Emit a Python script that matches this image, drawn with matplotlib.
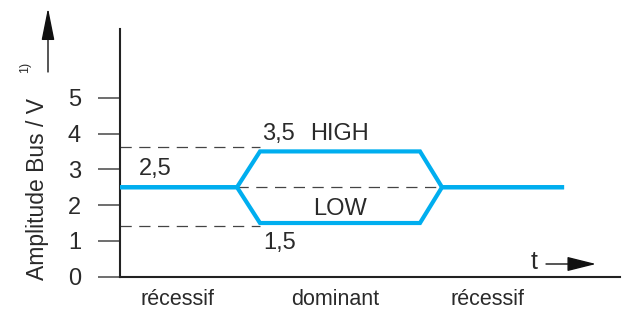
import matplotlib
matplotlib.use("Agg")
import matplotlib.pyplot as plt

# Data
signal_t = [0, 117, 140, 300, 322, 442]
high_v = [2.5, 2.5, 3.5, 3.5, 2.5, 2.5]
low_v = [2.5, 2.5, 1.5, 1.5, 2.5, 2.5]
threshold_hi = 3.62
threshold_lo = 1.42
threshold_t = [0, 140]
mid_t = [117, 322]
mid_v = 2.5
y_ticks = [0, 1, 2, 3, 4, 5]
phases = ["récessif", "dominant", "récessif"]
phase_t = [58, 215, 368]

plt.rcParams['font.family'] = ['Liberation Sans', 'DejaVu Sans']
TXT = '#2a2a2a'
BLUE = '#00AEEF'

fig = plt.figure(figsize=(6.22, 3.15), dpi=100)
ax = fig.add_axes([120/622, 38.3/315, 500/622, (286-38.3)/315])
ax.set_xlim(0, 500)
ax.set_ylim(0, 6.92)

# dashed reference lines
ax.plot(threshold_t, [threshold_hi]*2, color='#444444', lw=0.9, ls=(0, (9, 6)), zorder=1)
ax.plot(threshold_t, [threshold_lo]*2, color='#444444', lw=0.9, ls=(0, (9, 6)), zorder=1)
ax.plot(mid_t, [mid_v]*2, color='#444444', lw=0.9, ls=(0, (9, 6)), zorder=1)

# signal
ax.plot(signal_t, high_v, color=BLUE, lw=3.0, solid_joinstyle='miter', zorder=3)
ax.plot(signal_t, low_v, color=BLUE, lw=3.0, solid_joinstyle='miter', zorder=3)

for s in ['top', 'right']:
    ax.spines[s].set_visible(False)
for s in ['left', 'bottom']:
    ax.spines[s].set_linewidth(1.5)
    ax.spines[s].set_color('#222222')

ax.set_yticks(y_ticks)
ax.set_yticklabels([str(v) for v in y_ticks], fontsize=17, color=TXT)
ax.tick_params(axis='y', direction='out', length=16, width=1.2, color='#555555', pad=12)
ax.set_xticks([])

# y label placed as in reference (centred lower than the axes centre)
fig.text(38/622, (315-189)/315, 'Amplitude Bus / V', fontsize=16.5, color=TXT,
         rotation=90, ha='center', va='center')

# annotations on the signal
ax.text(35, 3.0, '2,5', fontsize=17, color=TXT, ha='center', va='center')
ax.text(158, 4.0, '3,5', fontsize=17, color=TXT, ha='center', va='center')
ax.text(220, 4.0, 'HIGH', fontsize=17, color=TXT, ha='center', va='center')
ax.text(220, 1.9, 'LOW', fontsize=17, color=TXT, ha='center', va='center')
ax.text(160, 0.95, '1,5', fontsize=17, color=TXT, ha='center', va='center')

for lbl, t in zip(phases, phase_t):
    ax.text(t, -0.65, lbl, fontsize=15.5, color=TXT, ha='center', va='center', clip_on=False)

# t arrow
ax.text(414, 0.42, 't', fontsize=18, color=TXT, ha='center', va='center')
ax.annotate('', xy=(596, 51), xycoords='figure pixels', xytext=(546, 51), textcoords='figure pixels',
            arrowprops=dict(arrowstyle='-|>,head_length=1.8,head_width=0.45', color='#111111', lw=1.0,
                            shrinkA=0, shrinkB=0))

# top-left arrow
ax.annotate('', xy=(48, 307), xycoords='figure pixels', xytext=(48, 243), textcoords='figure pixels',
            arrowprops=dict(arrowstyle='-|>,head_length=2.0,head_width=0.4', color='#111111', lw=1.0,
                            shrinkA=0, shrinkB=0))
fig.text(25/622, (315-67)/315, '1)', fontsize=9, color=TXT, rotation=90, ha='center', va='center')

fig.savefig('out.png', dpi=100)
